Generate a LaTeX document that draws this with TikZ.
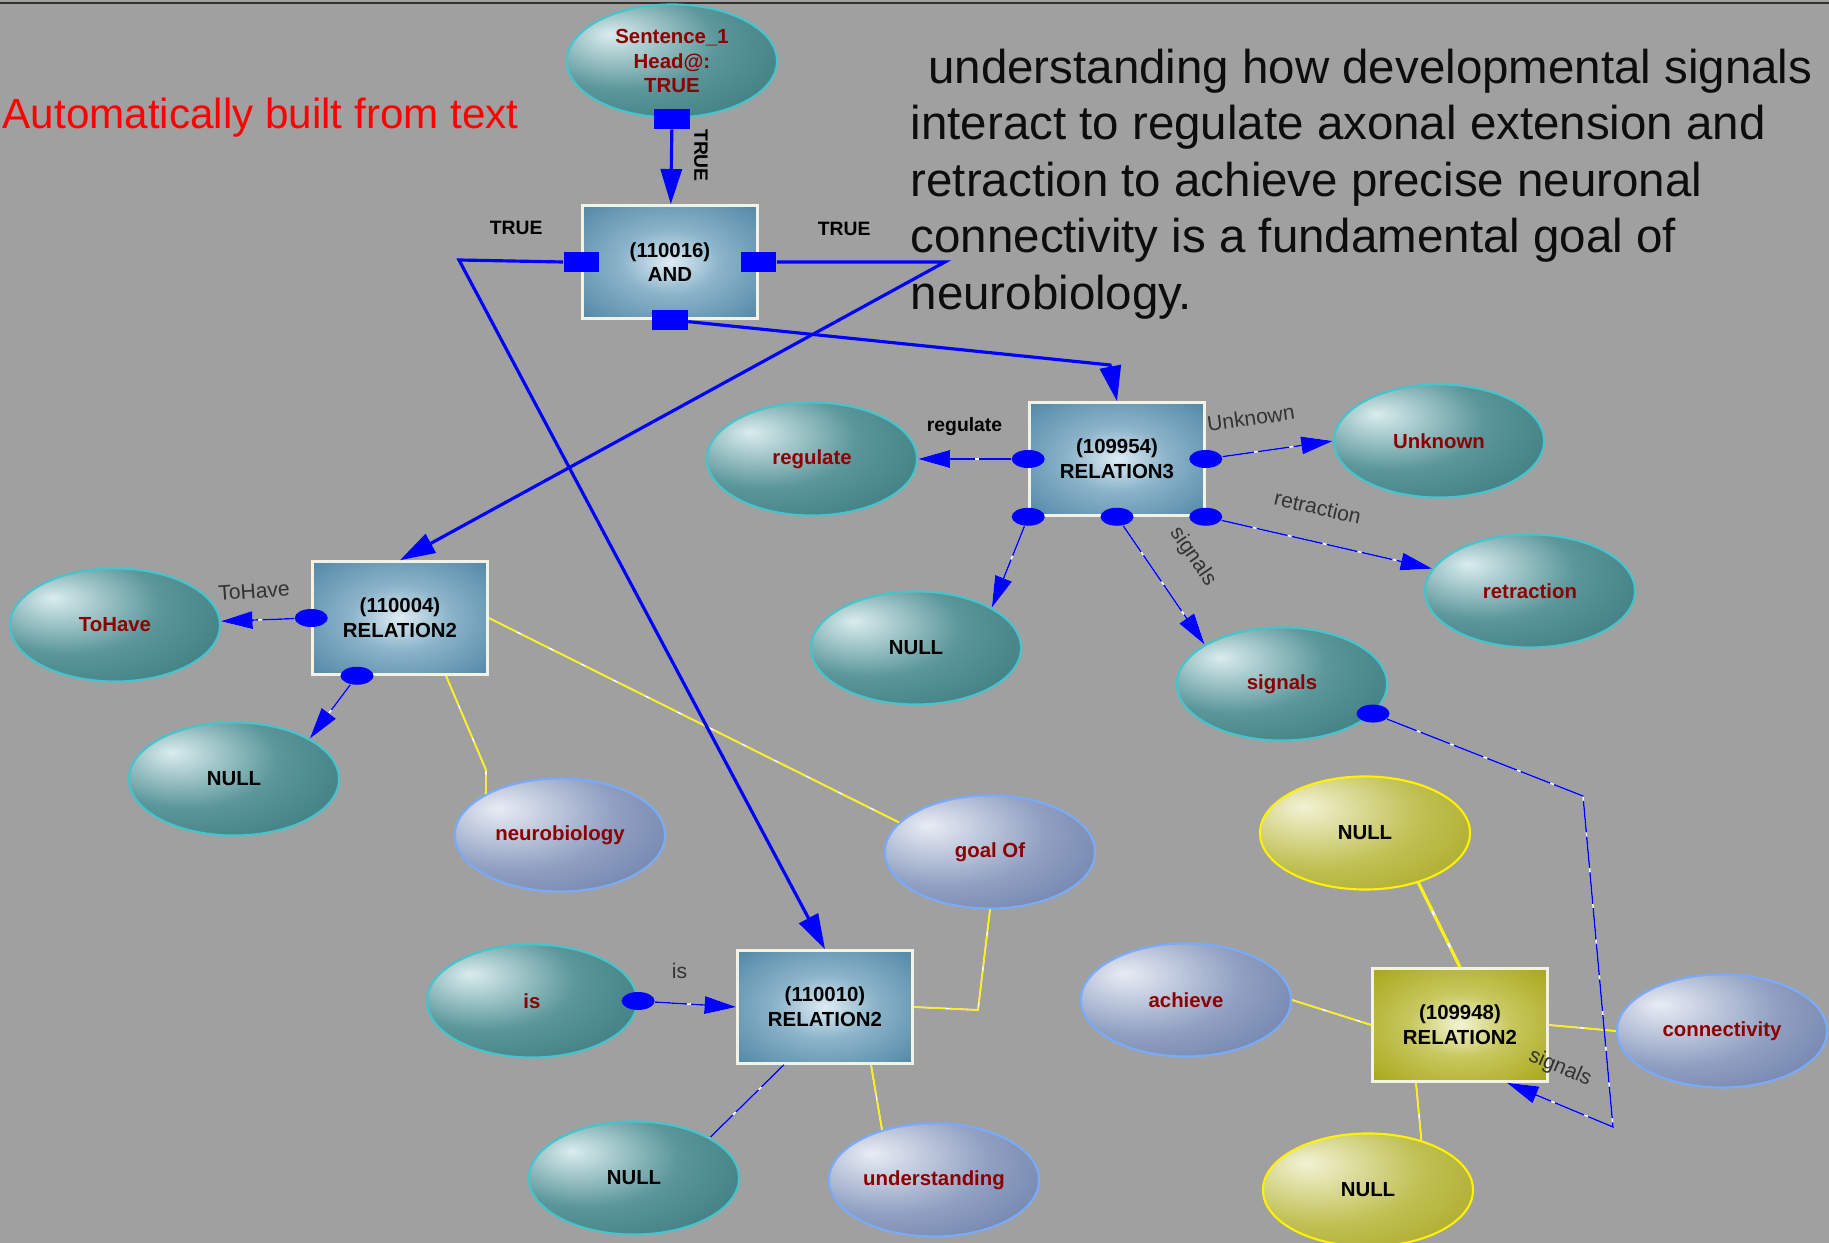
\documentclass[tikz,border=0pt]{standalone}
\usepackage{fontspec}
\setmainfont{Liberation Sans}
\usetikzlibrary{arrows.meta, shapes.geometric, calc, shadows}

\definecolor{bggray}{RGB}{160,160,160}
\definecolor{tealhi}{RGB}{218,236,238}
\definecolor{tealmid}{RGB}{90,150,154}
\definecolor{tealdark}{RGB}{40,106,110}
\definecolor{tealline}{RGB}{70,196,204}
\definecolor{slatehi}{RGB}{232,236,244}
\definecolor{slatemid}{RGB}{144,160,194}
\definecolor{slatedark}{RGB}{82,100,150}
\definecolor{slateline}{RGB}{122,170,250}
\definecolor{olivehi}{RGB}{242,242,212}
\definecolor{olivemid}{RGB}{192,192,84}
\definecolor{olivedark}{RGB}{150,150,0}
\definecolor{boxhi}{RGB}{222,236,244}
\definecolor{boxmid}{RGB}{140,180,202}
\definecolor{boxdark}{RGB}{70,126,158}
\definecolor{yboxhi}{RGB}{244,244,214}
\definecolor{yboxmid}{RGB}{200,200,96}
\definecolor{yboxdark}{RGB}{160,160,10}
\definecolor{rimline}{RGB}{242,242,230}
\definecolor{nodered}{RGB}{140,0,0}

% shadings: highlight top left for ellipses, centre glow for boxes
\pgfdeclareradialshading{tealball}{\pgfpoint{-15bp}{12bp}}{color(0bp)=(tealhi); color(22bp)=(tealmid); color(55bp)=(tealdark); color(90bp)=(tealdark)}
\pgfdeclareradialshading{slateball}{\pgfpoint{-15bp}{12bp}}{color(0bp)=(slatehi); color(24bp)=(slatemid); color(58bp)=(slatedark); color(90bp)=(slatedark)}
\pgfdeclareradialshading{oliveball}{\pgfpoint{-15bp}{12bp}}{color(0bp)=(olivehi); color(24bp)=(olivemid); color(58bp)=(olivedark); color(90bp)=(olivedark)}
\pgfdeclareradialshading{pillow}{\pgfpoint{0bp}{0bp}}{color(0bp)=(boxhi); color(14bp)=(boxmid); color(40bp)=(boxdark); color(75bp)=(boxdark)}
\pgfdeclareradialshading{ypillow}{\pgfpoint{0bp}{0bp}}{color(0bp)=(yboxhi); color(14bp)=(yboxmid); color(40bp)=(yboxdark); color(75bp)=(yboxdark)}

\newcommand\nodetxt{\fontsize{5.8}{7}\selectfont\bfseries}
\newcommand\edgetxt{\fontsize{6}{7}\selectfont}

\begin{document}
\begin{tikzpicture}[
    x=0.01cm, y=-0.01cm,
    word/.style={ellipse, draw=tealline, line width=0.6pt, shade, shading=tealball,
        minimum width=2.1cm, minimum height=1.13cm, inner sep=0pt,
        align=center, font=\nodetxt, text=nodered},
    nullw/.style={word, text=black},
    slate/.style={word, draw=slateline, shading=slateball},
    olive/.style={word, draw=yellow, shading=oliveball, text=black},
    relbox/.style={rectangle, draw=rimline, line width=0.7pt, shade, shading=pillow,
        minimum width=1.75cm, minimum height=1.13cm, align=center, font=\nodetxt,
        drop shadow={shadow xshift=0.5pt, shadow yshift=-0.5pt, opacity=0.6, fill=black!55}},
    yrelbox/.style={relbox, shading=ypillow},
    sqport/.style={rectangle, fill=blue, inner sep=0pt, minimum width=0.35cm, minimum height=0.2cm},
    dotport/.style={ellipse, fill=blue, inner sep=0pt, minimum width=0.33cm, minimum height=0.18cm},
    main/.style={draw=blue, line width=0.9pt, -{Triangle[length=10pt, width=6pt]}},
    link/.style={preaction={draw=white, line width=0.4pt}, draw=blue, line width=0.4pt,
        dash pattern=on 9pt off 1.2pt},
    ylink/.style={preaction={draw=white, line width=#1}, draw=yellow, line width=#1,
        dash pattern=on 9pt off 1.2pt},
    ylink/.default=0.45pt,
    >={Triangle[length=9pt, width=5pt]},
    tlbl/.style={font=\fontsize{5.5}{7}\selectfont\bfseries, text=black},
    elbl/.style={font=\edgetxt, text=black!80}
]
    % background
    \useasboundingbox (0,0) rectangle (1829,1243);
    \fill[bggray] (0,0) rectangle (1829,1243);
    \draw[black!60!olive!40!black, line width=0.35pt] (0,3) -- (1829,3);

    % texts
    \node[anchor=west, inner sep=0pt, text=red, font=\fontsize{12}{14}\selectfont] (title) at (2,118)
        {Automatically built from text};
    \node[anchor=north west, inner sep=0pt, align=left, text=black!95,
        font=\fontsize{13.5}{16.07}\selectfont] (para) at (910,48)
        {\hspace*{5pt}understanding how developmental signals\\
         interact to regulate axonal extension and\\
         retraction to achieve precise neuronal\\
         connectivity is a fundamental goal of\\
         neurobiology.};

    % boxes
    \node[relbox] (and) at (670,262) {(110016)\\AND};
    \node[relbox] (r3) at (1117,459) {(109954)\\RELATION3};
    \node[relbox] (r4) at (400,618) {(110004)\\RELATION2};
    \node[relbox] (r10) at (825,1007) {(110010)\\RELATION2};
    \node[yrelbox] (r48) at (1460,1025) {(109948)\\RELATION2};

    % ellipses
    \node[word] (sent) at (672,61) {Sentence\_1\\Head@:\\TRUE};
    \node[word] (regulate) at (812,459) {regulate};
    \node[nullw] (nullA) at (916,648) {NULL};
    \node[word] (unknown) at (1439,441) {Unknown};
    \node[word] (retraction) at (1530,591) {retraction};
    \node[word] (signals) at (1282,684) {signals};
    \node[word] (tohave) at (115,625) {ToHave};
    \node[nullw] (nullB) at (234,779) {NULL};
    \node[slate] (neuro) at (560,835) {neurobiology};
    \node[slate] (goalof) at (990,852) {goal Of};
    \node[word] (is) at (532,1001) {is};
    \node[nullw] (nullC) at (634,1178) {NULL};
    \node[slate] (underst) at (934,1180) {understanding};
    \node[olive] (nullY1) at (1365,833) {NULL};
    \node[olive] (nullY2) at (1368,1190) {NULL};
    \node[slate] (achieve) at (1186,1000) {achieve};
    \node[slate] (conn) at (1722,1031) {connectivity};

    % ports
    \node[sqport] (sentS) at (sent.south) {};
    \node[sqport] (andW) at (and.west) {};
    \node[sqport] (andE) at (and.east) {};
    \node[sqport] (andS) at (and.south) {};
    \node[dotport] (r3W) at (r3.west) {};
    \node[dotport] (r3E) at (r3.east) {};
    \node[dotport] (r3SW) at (r3.south west) {};
    \node[dotport] (r3S) at (r3.south) {};
    \node[dotport] (r3SE) at (r3.south east) {};
    \node[dotport] (r4W) at (r4.west) {};
    \node[dotport] (r4S) at ($(r4.south)+(-43,0)$) {};
    \node[dotport] (isE) at (is.east) {};
    \node[dotport] (sigE) at (signals.-18) {};

    % bends and free ends
    \coordinate (andWbend) at (459,260);
    \coordinate (andEbend) at (945,262);
    \coordinate (andSbend) at (1110,365);
    \coordinate (r4out) at ($(r4.south)+(46,0)$);
    \coordinate (neurobend) at (486,770);
    \coordinate (r10outA) at ($(r10.south)+(-41,0)$);
    \coordinate (r10outB) at ($(r10.south)+(46,0)$);
    \coordinate (goalbend) at (978,1010);
    \coordinate (r48outA) at ($(r48.south)+(-44,0)$);
    \coordinate (sigbendA) at (1583,796);
    \coordinate (sigbendB) at (1613,1127);
    \coordinate (r48in) at ($(r48.south east)+(-42,0)$);

    % 1. yellow links
    \draw[ylink] (r4out) -- (neurobend) -- (neuro.151);
    \draw[ylink] (r4.east) -- (goalof.162);
    \draw[ylink] (r10outB) -- (underst.136);
    \draw[ylink] (r10.east) -- (goalbend) -- (goalof.south);
    \draw[ylink=0.8pt] (nullY1.-43) -- (r48.north);
    \draw[ylink] (r48outA) -- (nullY2.43);
    \draw[ylink] (achieve.east) -- (r48.west);
    \draw[ylink] (r48.east) -- (conn.west);

    % 2. blue links
    \draw[link, ->] (r3W) -- node[tlbl, above=3pt, pos=0.5] {regulate} (regulate);
    \draw[link, ->] (r3E) -- node[elbl, sloped, above=4pt, pos=0.3] {Unknown} (unknown.west);
    \draw[link, ->] (r3SE) -- node[elbl, sloped, above=4pt, pos=0.42] {retraction} (retraction);
    \draw[link, ->] (r3S) -- node[elbl, sloped, above=5pt, pos=0.45] {signals} (signals.153);
    \draw[link, ->] (r3SW) -- (nullA.28);
    \draw[link, ->] (r4W) -- (tohave);
    \node[elbl, rotate=4] (lblhave) at (254,591) {ToHave};
    \draw[link, ->] (r4S) -- (nullB.28);
    \draw[link, ->] (isE) -- node[elbl, above=3.5pt, pos=0.3] {is} (r10.west);
    \draw[link] (r10outA) -- (nullC.28);
    \draw[link, ->] (sigE) -- (sigbendA) -- (sigbendB) -- (r48in);
    \node[elbl, rotate=-23] (lblsig) at (1560,1068) {signals};

    % 3. AND links
    \draw[main] (sentS) -- node[tlbl, pos=0.35, rotate=-90, anchor=south, inner sep=6pt] {TRUE} (and);
    \draw[main] (andW.west) -- node[tlbl, above=3.8pt, pos=0.45] {TRUE} (andWbend) -- (r10.north);
    \draw[main] (andE.east) -- node[tlbl, above=3.8pt, pos=0.4] {TRUE} (andEbend) -- (r4.north);
    \draw[main] (andS) -- (andSbend) -- (r3.north);
\end{tikzpicture}
\end{document}
